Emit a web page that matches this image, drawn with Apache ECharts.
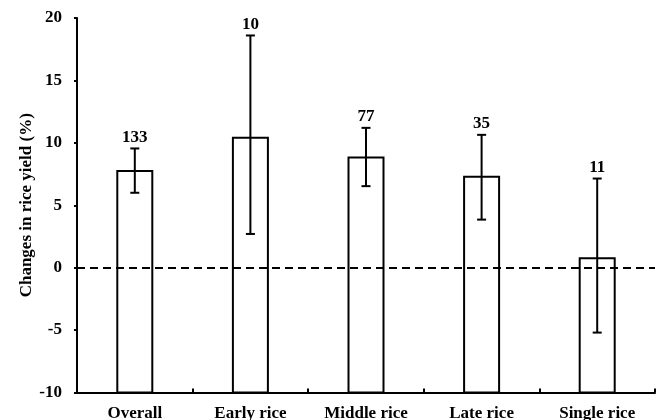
<!DOCTYPE html>
<html>
<head>
<meta charset="utf-8">
<script src="https://cdn.jsdelivr.net/npm/echarts@6/dist/echarts.min.js"></script>
<style>
html,body{margin:0;padding:0;background:#fff;}
#chart{width:666px;height:420px;}
</style>
</head>
<body>
<div id="chart"></div>
<script>
var categories = ['Overall', 'Early rice', 'Middle rice', 'Late rice', 'Single rice'];
var means = [7.74, 10.4, 8.82, 7.28, 0.75];
var lowerCI = [6.0, 2.7, 6.53, 3.85, -5.2];
var upperCI = [9.55, 18.6, 11.2, 10.64, 7.14];
var sampleSizes = [133, 10, 77, 35, 11];
var yTicks = {min: -10, max: 20, interval: 5};

var FONT = '"Liberation Serif", "Times New Roman", serif';

var barData = categories.map(function (c, i) { return [i, means[i]]; });
var errData = categories.map(function (c, i) {
  return [i, lowerCI[i], upperCI[i], sampleSizes[i]];
});

var chart = echarts.init(document.getElementById('chart'));
chart.setOption({
  animation: false,
  backgroundColor: '#fff',
  grid: {left: 77, right: 11, top: 18, bottom: 27.5, containLabel: false, outerBoundsMode: 'none'},
  xAxis: {
    type: 'category',
    data: categories,
    axisLine: {onZero: false, lineStyle: {color: '#000', width: 2}},
    axisTick: {show: true, inside: true, length: 4, lineStyle: {color: '#000', width: 2}},
    axisLabel: {color: '#000', fontFamily: FONT, fontWeight: 'bold', fontSize: 17, margin: 13},
    splitLine: {show: false}
  },
  yAxis: {
    type: 'value',
    min: yTicks.min,
    max: yTicks.max,
    interval: yTicks.interval,
    name: 'Changes in rice yield (%)',
    nameLocation: 'middle',
    nameGap: 42,
    nameMoveOverlap: false,
    nameTextStyle: {color: '#000', fontFamily: FONT, fontWeight: 'bold', fontSize: 17},
    axisLine: {show: true, lineStyle: {color: '#000', width: 2}},
    axisTick: {show: true, inside: false, length: 3, lineStyle: {color: '#000', width: 2}},
    axisLabel: {color: '#000', fontFamily: FONT, fontWeight: 'bold', fontSize: 17, margin: 15},
    splitLine: {show: false}
  },
  series: [
    {
      type: 'custom',
      data: barData,
      z: 2,
      renderItem: function (params, api) {
        var x = api.value(0);
        var base = api.coord([x, yTicks.min]);
        var top = api.coord([x, api.value(1)]);
        var w = 35;
        return {
          type: 'rect',
          shape: {x: top[0] - w / 2, y: top[1], width: w, height: base[1] - top[1]},
          style: {fill: '#fff', stroke: '#000', lineWidth: 2}
        };
      },
      markLine: {
        silent: true,
        symbol: ['none', 'none'],
        label: {show: false},
        lineStyle: {color: '#000', width: 2, type: [8, 5]},
        data: [{yAxis: 0}]
      }
    },
    {
      type: 'custom',
      data: errData,
      z: 5,
      renderItem: function (params, api) {
        var x = api.value(0);
        var lo = api.coord([x, api.value(1)]);
        var hi = api.coord([x, api.value(2)]);
        var hw = 4.5;
        var st = {stroke: '#000', lineWidth: 2};
        return {
          type: 'group',
          children: [
            {type: 'line', shape: {x1: lo[0], y1: lo[1], x2: hi[0], y2: hi[1]}, style: st},
            {type: 'line', shape: {x1: lo[0] - hw, y1: lo[1], x2: lo[0] + hw, y2: lo[1]}, style: st},
            {type: 'line', shape: {x1: hi[0] - hw, y1: hi[1], x2: hi[0] + hw, y2: hi[1]}, style: st},
            {type: 'text', style: {
              x: hi[0], y: hi[1] - 11,
              text: String(api.value(3)),
              fill: '#000',
              font: 'bold 17px ' + FONT,
              align: 'center', verticalAlign: 'middle'
            }}
          ]
        };
      }
    }
  ]
});
</script>
</body>
</html>
